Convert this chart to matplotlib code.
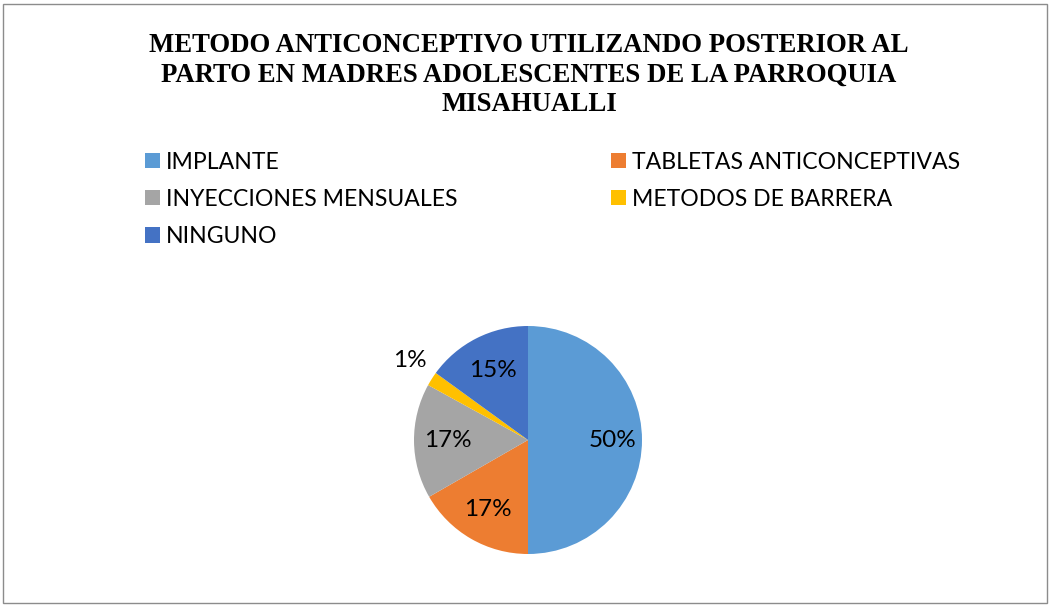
import matplotlib
matplotlib.use("Agg")
import matplotlib.pyplot as plt
from matplotlib.patches import Rectangle, Patch
import numpy as np

# data (percent of mothers)
categories = ["IMPLANTE", "TABLETAS ANTICONCEPTIVAS", "INYECCIONES MENSUALES",
              "METODOS DE BARRERA", "NINGUNO"]
values = [50, 16.7, 16.3, 2.0, 15.0]
pct_labels = ["50%", "17%", "17%", "1%", "15%"]
colors = ["#5B9BD5", "#ED7D31", "#A5A5A5", "#FFC000", "#4472C4"]
title = ("METODO ANTICONCEPTIVO UTILIZANDO POSTERIOR AL\n"
         "PARTO EN MADRES ADOLESCENTES DE LA PARROQUIA\nMISAHUALLI")

W, H = 1053, 607
fig = plt.figure(figsize=(W / 100, H / 100), dpi=100)

# chart border
fig.patches.append(Rectangle((3 / W, 4 / H), 1044 / W, 599 / H,
                             transform=fig.transFigure, fill=False,
                             edgecolor="#8c8c8c", linewidth=1.0))

fig.text(529 / W, 1 - 75 / H, title, ha="center", va="center",
         family="Liberation Serif", weight="bold", fontsize=19.3,
         linespacing=1.22)

# pie: centre (528, 440) px, radius 114 px
R = 114
half = 150
ax = fig.add_axes([(528 - half) / W, (H - 440 - half) / H,
                   2 * half / W, 2 * half / H])
wedges, _ = ax.pie(values, colors=colors, startangle=90, counterclock=False,
                   radius=1.0, wedgeprops=dict(linewidth=0))
ax.set_xlim(-half / R, half / R)
ax.set_ylim(-half / R, half / R)
ax.axis("off")

dists = [0.74, 0.70, 0.70, 1.25, 0.68]
for w, lab, d in zip(wedges, pct_labels, dists):
    ang = np.deg2rad((w.theta1 + w.theta2) / 2)
    if lab == "1%":
        ang = np.deg2rad(146)
    ax.text(d * np.cos(ang), d * np.sin(ang), lab, ha="center", va="center",
            family="Lato", fontsize=17.5, color="black")

# legend, laid out row-wise in two columns
order = [0, 2, 4, 1, 3]
handles = [Patch(facecolor=colors[i], edgecolor="none") for i in order]
labels = [categories[i] for i in order]
fig.legend(handles, labels, ncol=2, loc="upper left",
           bbox_to_anchor=(124 / W, 1 - 131 / H), frameon=False,
           prop=dict(family="Lato", size=16.6), handlelength=0.65,
           handleheight=0.65, handletextpad=0.28, columnspacing=6.65,
           labelspacing=0.7)

fig.savefig("out.png", dpi=100)
